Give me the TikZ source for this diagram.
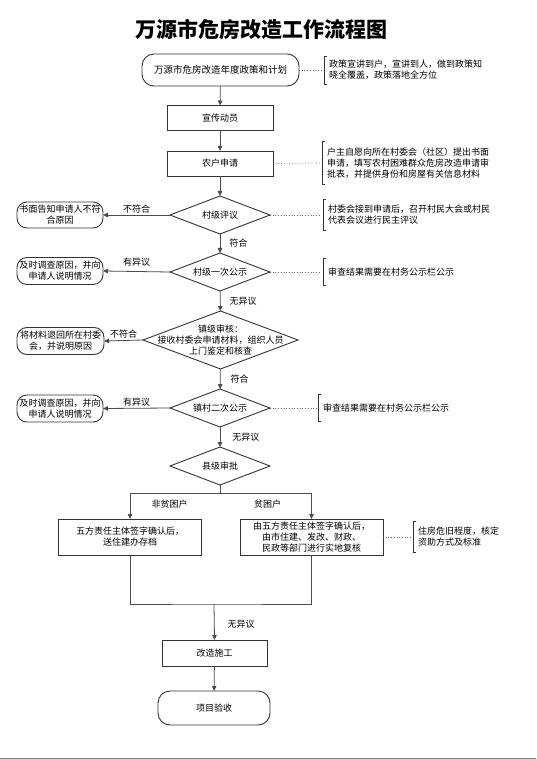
\documentclass[tikz,border=0pt]{standalone}
\usepackage{fontspec}
\setmainfont{Noto Sans CJK SC}
\usetikzlibrary{shapes.geometric,arrows.meta}
\begin{document}
\begin{tikzpicture}[x=1pt,y=-1pt,
  txt/.style={font=\fontsize{9}{11}\selectfont},
  box/.style={txt,draw=black!80,line width=0.9pt,rectangle,inner sep=0pt,outer sep=0pt,align=center,minimum width=106pt,minimum height=25pt},
  rbox/.style={box,rounded corners=10pt},
  dia/.style={draw=black!80,line width=0.9pt,diamond,inner sep=0pt,outer sep=0pt,minimum width=100pt,minimum height=38pt},
  arr/.style={draw=black!70,line width=0.8pt,-{Triangle[length=5pt,width=4.5pt]}},
  ln/.style={draw=black!70,line width=0.8pt},
  dotl/.style={draw=black!60,dotted,line width=0.7pt},
  note/.style={txt,anchor=west,align=left,inner xsep=5pt,inner ysep=4pt,minimum height=27pt},
  brk/.style={draw=black!80,line width=0.8pt},
  lab/.style={txt,inner sep=1pt}
]
\useasboundingbox (0,0) rectangle (536,759);
\fill[white] (0,0) rectangle (536,759);
\draw[black!50,line width=1pt] (0,758.5) -- (536,758.5);

\node[font=\fontsize{21}{25}\selectfont\bfseries] (title) at (261,30) {万源市危房改造工作流程图};

% main column
\node[rbox,minimum width=157pt,minimum height=32pt,rounded corners=12pt,font=\fontsize{9.5}{11}\selectfont] (start) at (220.5,70) {万源市危房改造年度政策和计划};
\node[box] (b1) at (220,118) {宣传动员};
\node[box] (b2) at (220,163.5) {农户申请};
\node[dia] (d1) at (220,215) {};
\node[txt] (d1t) at (d1) {村级评议};
\node[dia] (d2) at (220,272) {};
\node[txt] (d2t) at (d2) {村级一次公示};
\node[dia,minimum width=155pt,minimum height=58pt] (d3) at (220.5,340) {};
\node[txt,align=center] (d3t) at (220.5,340) {镇级审核：\\接收村委会申请材料，组织人员\\上门鉴定和核查};
\node[dia] (d4) at (220,408) {};
\node[txt] (d4t) at (d4) {镇村二次公示};
\node[dia] (d5) at (220,466) {};
\node[txt] (d5t) at (d5) {县级审批};

\node[box,minimum width=143pt,minimum height=36pt] (bl) at (130,537) {五方责任主体签字确认后，\\送住建办存档};
\node[box,minimum width=143pt,minimum height=36pt] (br) at (311.5,537) {由五方责任主体签字确认后，\\由市住建、发改、财政、\\民政等部门进行实地复核};
\node[box,minimum width=105pt,minimum height=26pt] (b3) at (214.5,653) {改造施工};
\node[rbox,minimum width=112pt,minimum height=34pt,rounded corners=12pt] (e) at (214,708) {项目验收};

% left column
\node[rbox,minimum width=86pt,minimum height=26pt,text width=84pt] (L1) at (60,215) {书面告知申请人不符\\合原因};
\node[rbox,minimum width=86pt,minimum height=27pt,text width=84pt] (L2) at (60,271) {及时调查原因，并向\\申请人说明情况};
\node[rbox,minimum width=87pt,minimum height=27pt,text width=85pt] (L3) at (60.5,341) {将材料退回所在村委\\会，并说明原因};
\node[rbox,minimum width=86pt,minimum height=27pt,text width=84pt] (L4) at (60,408.5) {及时调查原因，并向\\申请人说明情况};

% notes
\node[note] (n1) at (324,70) {政策宣讲到户，宣讲到人，做到政策知\\晓全覆盖，政策落地全方位};
\node[note,minimum height=42pt] (n2) at (322,163) {户主自愿向所在村委会（社区）提出书面\\申请，填写农村困难群众危房改造申请审\\批表，并提供身份和房屋有关信息材料};
\node[note,minimum height=30pt] (n3) at (323,215) {村委会接到申请后，召开村民大会或村民\\代表会议进行民主评议};
\node[note] (n4) at (323,272) {审查结果需要在村务公示栏公示};
\node[note] (n5) at (318,408) {审查结果需要在村务公示栏公示};
\node[note,minimum height=30pt] (n6) at (413,537) {住房危旧程度，核定\\资助方式及标准};

\foreach \n in {n1,n2,n3,n4,n5,n6}{
  \draw[brk] ([xshift=3pt]\n.north west) -- (\n.north west) -- (\n.south west) -- ([xshift=3pt]\n.south west);
}
\draw[dotl] (start.east) -- ([xshift=-2pt]n1.west);
\draw[dotl] (b2.east) -- ([xshift=-2pt]n2.west);
\draw[dotl] (d1.east) -- ([xshift=-2pt]n3.west);
\draw[dotl] (d2.east) -- ([xshift=-2pt]n4.west);
\draw[dotl] (d4.east) -- ([xshift=-2pt]n5.west);
\draw[dotl] (br.east) -- ([xshift=-2pt]n6.west);

% connectors
\draw[arr] (start) -- (b1);
\draw[arr] (b1) -- (b2);
\draw[arr] (b2) -- (d1);
\draw[arr] (d1) -- node[lab,right=8pt] {符合} (d2);
\draw[arr] (d2) -- node[lab,right=8pt] {无异议} (d3);
\draw[arr] (d3) -- node[lab,right=9pt] {符合} (d4);
\draw[arr] (d4) -- node[lab,right=11pt] {无异议} (d5);

\draw[arr] (d1.west) -- node[lab,above=0.5pt] {不符合} (L1.east);
\draw[arr] (d2.west) -- node[lab,above=4pt] {有异议} (L2.east);
\draw[arr] (d3.west) -- node[lab,above=0.5pt] {不符合} (L3.east);
\draw[arr] (d4.west) -- node[lab,above=0.5pt] {有异议} (L4.east);

\coordinate (split) at (220,493);
\draw[ln] (d5.south) -- (split);
\draw[arr] (split) -| node[lab,pos=0.28,below=5pt] {非贫困户} (bl.north);
\draw[arr] (split) -| node[lab,pos=0.26,below=5pt] {贫困户} (br.north);

\coordinate (merge) at (214,604);
\draw[ln] (bl.south) |- (merge) -| (br.south);
\draw[arr] (merge) -- node[lab,right=12pt,pos=0.55] {无异议} (b3.north);
\draw[arr] (b3) -- (e);
\end{tikzpicture}
\end{document}
